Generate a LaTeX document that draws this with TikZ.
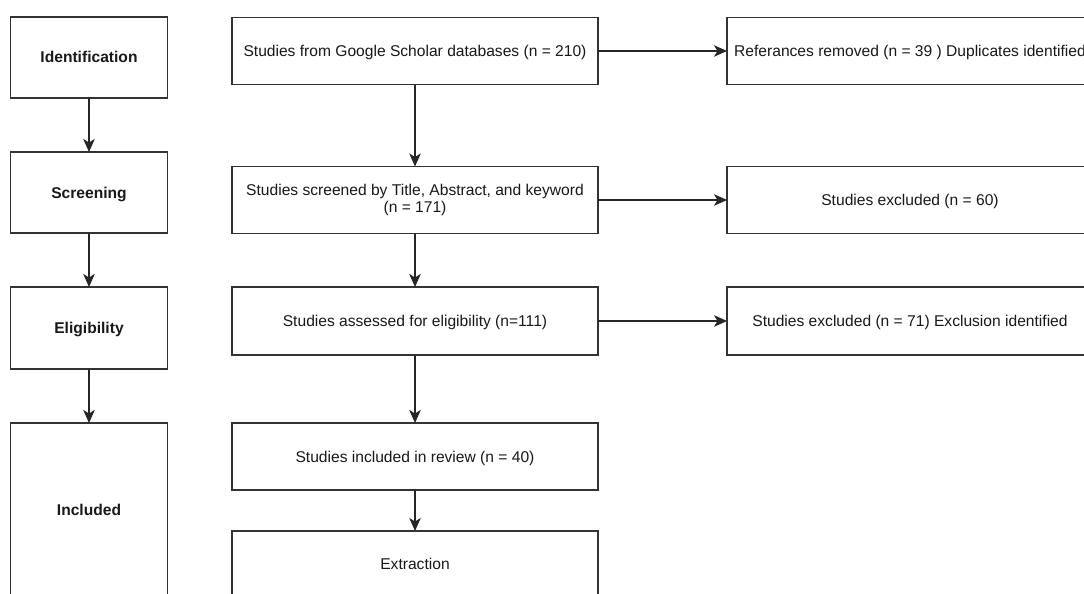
\documentclass[tikz,border=0pt]{standalone}
\usepackage{fontspec}
\setmainfont{Liberation Sans}
\usetikzlibrary{arrows.meta}
\begin{document}
\begin{tikzpicture}[x=1pt,y=-1pt,
  box/.style={draw=black!80, line width=1.4pt, fill=white, text=black!90,
    font=\fontsize{15.6}{17}\selectfont, align=center, inner sep=0pt, outer sep=0pt},
  one/.style={text height=11pt, text depth=0pt},
  stage/.style={box, one, font=\fontsize{15.6}{17}\selectfont\bfseries, minimum width=157pt},
  mid/.style={box, minimum width=366pt},
  side/.style={box, one, minimum width=366pt},
  link/.style={draw=black!85, line width=1.5pt, -{Stealth[length=13pt,width=11.5pt,inset=3.5pt]}}]
\useasboundingbox (0,0) rectangle (1084,594);
\clip (0,0) rectangle (1084,594);
% stage column
\node[stage, minimum height=81pt] (ident) at (89,57.5) {Identification};
\node[stage, minimum height=81pt] (screen) at (89,192.5) {Screening};
\node[stage, minimum height=82pt] (elig) at (89,328) {Eligibility};
\node[stage, minimum height=174pt] (incl) at (89,510) {Included};
% middle column
\node[mid, one, minimum height=67pt] (m1) at (415,51) {Studies from Google Scholar databases (n = 210)};
\node[mid, minimum height=67pt] (m2) at (415,200) {Studies screened by Title, Abstract, and keyword\\(n = 171)};
\node[mid, one, minimum height=68pt] (m3) at (415,321) {Studies assessed for eligibility (n=111)};
\node[mid, one, minimum height=67pt] (m4) at (415,456.5) {Studies included in review (n = 40)};
\node[mid, one, minimum height=66pt] (m5) at (415,564) {Extraction};
% right column
\node[side, minimum height=67pt] (r1) at (910,51) {Referances removed (n = 39 ) Duplicates identified};
\node[side, minimum height=67pt] (r2) at (910,200) {Studies excluded (n = 60)};
\node[side, minimum height=68pt] (r3) at (910,321) {Studies excluded (n = 71) Exclusion identified};
% connectors
\draw[link] (ident.south) -- (screen.north);
\draw[link] (screen.south) -- (elig.north);
\draw[link] (elig.south) -- (incl.north);
\draw[link] (m1.south) -- (m2.north);
\draw[link] (m2.south) -- (m3.north);
\draw[link] (m3.south) -- (m4.north);
\draw[link] (m4.south) -- (m5.north);
\draw[link] (m1.east) -- (r1.west);
\draw[link] (m2.east) -- (r2.west);
\draw[link] (m3.east) -- (r3.west);
\end{tikzpicture}
\end{document}
